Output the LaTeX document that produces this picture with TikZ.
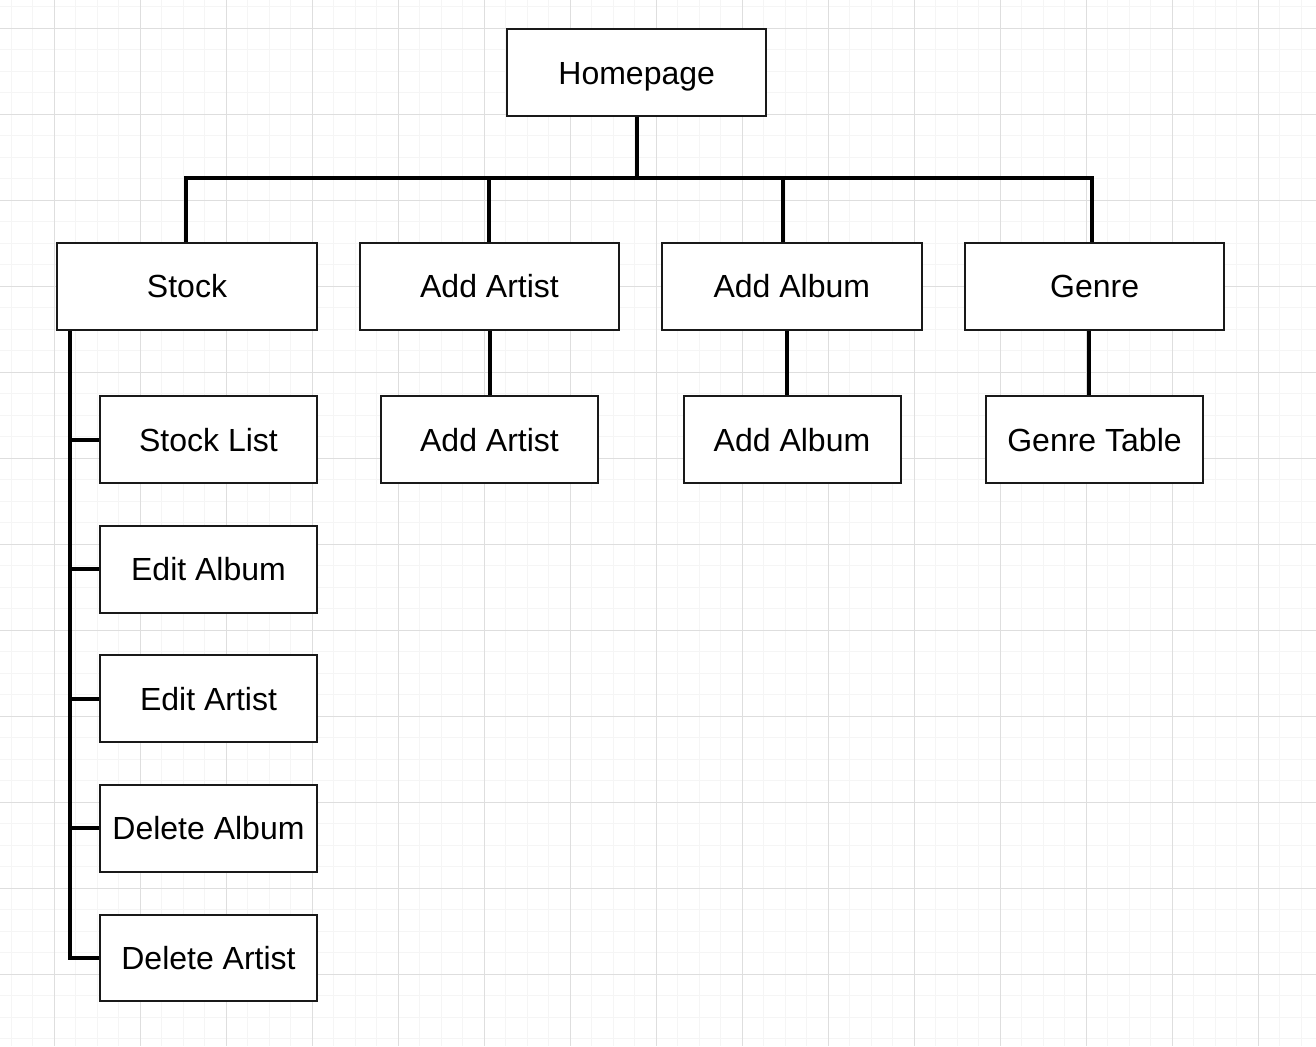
\documentclass[tikz,border=0pt]{standalone}
\usepackage{fontspec}
\setmainfont{Liberation Sans}
\begin{document}
\begin{tikzpicture}[x=1pt,y=-1pt,
  box/.style={draw=black!90, line width=2pt, fill=white, rectangle, inner sep=0pt,
    minimum height=86.5pt, text height=23pt, text depth=0pt,
    font=\fontsize{32}{38}\selectfont},
  wide/.style={box, minimum width=259.5pt},
  narrow/.style={box, minimum width=217pt},
  conn/.style={line width=4pt, black, line join=miter}]
\useasboundingbox (0,0) rectangle (1316,1046);
\begin{scope}
\clip (0,0) rectangle (1316,1046);
\fill[white] (0,0) rectangle (1316,1046);
\foreach \k in {-3,...,59} {\draw[line width=1pt, black!4] ({54.3+21.5*\k},0) -- ({54.3+21.5*\k},1046);}
\foreach \k in {-2,...,48} {\draw[line width=1pt, black!4] (0,{28.3+21.5*\k}) -- (1316,{28.3+21.5*\k});}
\foreach \k in {-1,...,15} {\draw[line width=1pt, black!13] ({54.3+86*\k},0) -- ({54.3+86*\k},1046);}
\foreach \k in {-1,...,12} {\draw[line width=1pt, black!13] (0,{28.3+86*\k}) -- (1316,{28.3+86*\k});}
\end{scope}

% nodes
\node[wide] (home) at (636.7,72.7) {Homepage};
\node[wide] (stock) at (187,286.3) {Stock};
\node[wide] (addartist) at (489.5,286.3) {Add Artist};
\node[wide] (addalbum) at (791.8,286.3) {Add Album};
\node[wide] (genre) at (1094.7,286.3) {Genre};
\node[narrow] (stocklist) at (208.5,439.5) {Stock List};
\node[narrow] (addartist2) at (489.5,439.5) {Add Artist};
\node[narrow] (addalbum2) at (792,439.5) {Add Album};
\node[narrow] (genretable) at (1094.5,439.5) {Genre Table};
\node[narrow] (editalbum) at (208.5,569.3) {Edit Album};
\node[narrow] (editartist) at (208.5,698.7) {Edit Artist};
\node[narrow] (deletealbum) at (208.5,828.3) {Delete Album};
\node[narrow] (deleteartist) at (208.5,957.8) {Delete Artist};

% bend points of the connectors
\coordinate (b1) at (186,177.5);
\coordinate (b2) at (489,177.5);
\coordinate (b3) at (782.7,177.5);
\coordinate (b4) at (1091.7,177.5);
\coordinate (c3) at (787,0);
\coordinate (c4) at (1089.3,0);
\coordinate (sp) at (69.5,0);

% connectors
\draw[conn] (home.south) -- (home.south|-b1);
\draw[conn] (b1|-stock.north) -- (b1) -- (b4) -- (b4|-genre.north);
\draw[conn] (b2) -- (b2|-addartist.north);
\draw[conn] (b3) -- (b3|-addalbum.north);
\draw[conn] (addartist.south) -- (addartist2.north);
\draw[conn] (c3|-addalbum.south) -- (c3|-addalbum2.north);
\draw[conn] (c4|-genre.south) -- (c4|-genretable.north);
\draw[conn] (sp|-stock.south) |- (deleteartist.west);
\foreach \n in {stocklist,editalbum,editartist,deletealbum} {\draw[conn] (sp|-\n.west) -- (\n.west);}
\end{tikzpicture}
\end{document}
